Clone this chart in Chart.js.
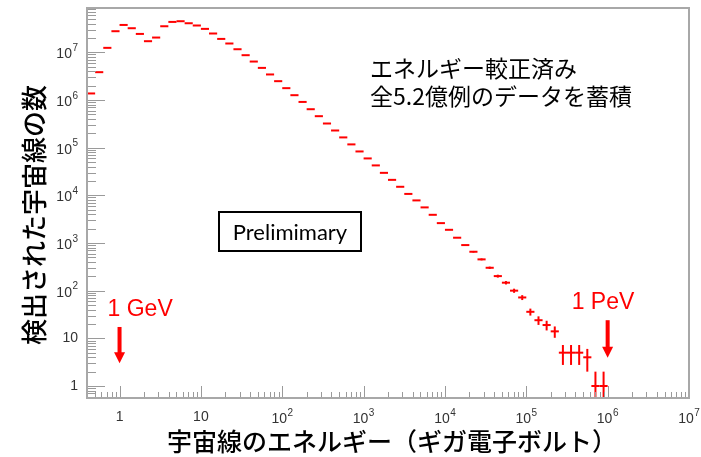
<!DOCTYPE html>
<html>
<head>
<meta charset="utf-8">
<title>宇宙線のエネルギースペクトル</title>
<script src="https://cdn.jsdelivr.net/npm/chart.js@4.4.1/dist/chart.umd.min.js"></script>
<style>
  html, body { margin: 0; padding: 0; background: #fff; }
  #wrap { position: relative; width: 701px; height: 457px; }
</style>
</head>
<body>
<div id="wrap"><canvas id="spectrum"></canvas></div>
<script>
// Energy bins: lower edge in log10(GeV); every bin is 0.1 decade wide
const binLogLow = [
  -0.4, -0.3, -0.2, -0.1, 0.0, 0.1, 0.2, 0.3, 0.4, 0.5,
  0.6, 0.7, 0.8, 0.9, 1.0, 1.1, 1.2, 1.3, 1.4, 1.5,
  1.6, 1.7, 1.8, 1.9, 2.0, 2.1, 2.2, 2.3, 2.4, 2.5,
  2.6, 2.7, 2.8, 2.9, 3.0, 3.1, 3.2, 3.3, 3.4, 3.5,
  3.6, 3.7, 3.8, 3.9, 4.0, 4.1, 4.2, 4.3, 4.4, 4.5,
  4.6, 4.7, 4.8, 4.9, 5.0, 5.1, 5.2, 5.3, 5.4, 5.5,
  5.6, 5.7, 5.8, 5.9
];
const binWidthLog = 0.1;

// Detected cosmic-ray events per bin
const counts = [
  1370000, 3830000, 12400000, 27700000, 37500000, 32000000, 24300000, 17100000, 20400000, 35200000,
  43400000, 44900000, 40700000, 36500000, 31000000, 24800000, 19100000, 15300000, 11600000, 8700000,
  6400000, 4710000, 3430000, 2480000, 1770000, 1260000, 910000, 640000, 457000, 321000,
  229000, 164000, 117000, 83200, 59400, 42400, 29600, 21100, 15100, 10700,
  7820, 5580, 3900, 2610, 1890, 1290, 904, 655, 453, 302,
  202, 147, 100, 72, 36, 24, 19, 14, 5, 5,
  5, 4, 1, 1
];

// Axis tick labels (decades)
const xTickValues = [1, 10, 1e2, 1e3, 1e4, 1e5, 1e6, 1e7];
const xTickLabels = ['1', '10', '10^2', '10^3', '10^4', '10^5', '10^6', '10^7'];
const yTickValues = [1, 10, 1e2, 1e3, 1e4, 1e5, 1e6, 1e7];
const yTickLabels = ['1', '10', '10^2', '10^3', '10^4', '10^5', '10^6', '10^7'];

// Texts
const xTitle = '宇宙線のエネルギー（ギガ電子ボルト）';
const yTitle = '検出された宇宙線の数';
const noteLines = ['エネルギー較正済み', '全5.2億例のデータを蓄積'];
const stampText = 'Prelimimary';

// Energy markers (arrows)
const markerEnergies = [1, 1e6];
const markerLabels = ['1 GeV', '1 PeV'];

// ---------------------------------------------------------------
const RED = 'rgb(255,0,0)';
const AXIS_GRAY = '#a8a8a8';
const TICK_GRAY = '#9a9a9a';
const LABEL_COLOR = '#333';

const points = counts.map((n, i) => ({
  x: Math.pow(10, binLogLow[i] + binWidthLog / 2),
  y: n,
  xLo: Math.pow(10, binLogLow[i]),
  xHi: Math.pow(10, binLogLow[i] + binWidthLog)
}));

// half the bin width in pixels, so the 'line' point spans the bin
function halfBin(c) {
  const xs = c.chart.scales && c.chart.scales.x;
  const d = c.raw;
  if (!xs || !d || !isFinite(xs.getPixelForValue(d.xHi))) return 4;
  return (xs.getPixelForValue(d.xHi) - xs.getPixelForValue(d.xLo)) / 2;
}

// vertical Poisson (sqrt N) uncertainty bars
const errorBars = {
  id: 'errorBars',
  afterDatasetsDraw(chart) {
    const { ctx, chartArea: a } = chart;
    const xs = chart.scales.x, ys = chart.scales.y;
    ctx.save();
    ctx.strokeStyle = RED;
    ctx.lineWidth = 2;
    points.forEach(p => {
      const err = Math.sqrt(p.y);
      const px = xs.getPixelForValue(p.x);
      const top = Math.max(ys.getPixelForValue(p.y + err), a.top);
      const lo = p.y - err;
      const bot = lo > 0 ? Math.min(ys.getPixelForValue(lo), a.bottom) : a.bottom;
      if (bot - top < 1.5) return;
      ctx.beginPath();
      ctx.moveTo(px, top);
      ctx.lineTo(px, bot);
      ctx.stroke();
    });
    ctx.restore();
  }
};

function drawPowLabel(ctx, x, y, label, align) {
  const parts = label.split('^');
  const baseFont = '14px "Liberation Sans", Arial, sans-serif';
  const expFont = '10px "Liberation Sans", Arial, sans-serif';
  ctx.font = baseFont;
  const wb = ctx.measureText(parts[0]).width;
  let we = 0;
  if (parts[1]) { ctx.font = expFont; we = ctx.measureText(parts[1]).width + 0.5; }
  const total = wb + we;
  let sx = align === 'right' ? x - total : x - total / 2;
  const by = parts[1] ? y + 2 : y;
  ctx.textAlign = 'left';
  ctx.textBaseline = 'middle';
  ctx.font = baseFont;
  ctx.fillText(parts[0], sx, by);
  if (parts[1]) {
    ctx.font = expFont;
    ctx.fillText(parts[1], sx + wb + 0.5, by - 6);
  }
}

// frame, inward log ticks and decade labels
const axesFrame = {
  id: 'axesFrame',
  afterDraw(chart) {
    const { ctx, chartArea: a } = chart;
    const xs = chart.scales.x, ys = chart.scales.y;
    ctx.save();
    // minor/major ticks
    ctx.strokeStyle = TICK_GRAY;
    ctx.lineWidth = 1;
    ctx.beginPath();
    for (let n = -1; n <= 7; n++) {
      for (let k = 1; k <= 9; k++) {
        const v = k * Math.pow(10, n);
        if (v >= xs.min * 0.999 && v <= xs.max * 1.001) {
          const px = Math.round(xs.getPixelForValue(v)) + 0.5;
          const len = k === 1 ? 12 : 6;
          ctx.moveTo(px, a.bottom);
          ctx.lineTo(px, a.bottom - len);
        }
      }
    }
    for (let n = -1; n <= 8; n++) {
      for (let k = 1; k <= 9; k++) {
        const v = k * Math.pow(10, n);
        if (v >= ys.min * 0.999 && v <= ys.max * 1.001) {
          const py = Math.round(ys.getPixelForValue(v)) + 0.5;
          const len = k === 1 ? 18 : 9;
          ctx.moveTo(a.left, py);
          ctx.lineTo(a.left + len, py);
        }
      }
    }
    ctx.stroke();
    // frame
    ctx.strokeStyle = AXIS_GRAY;
    ctx.lineWidth = 2;
    ctx.strokeRect(a.left, a.top, a.right - a.left, a.bottom - a.top);

    // tick labels
    ctx.fillStyle = LABEL_COLOR;
    xTickValues.forEach((v, i) => {
      drawPowLabel(ctx, xs.getPixelForValue(v), a.bottom + 19, xTickLabels[i], 'center');
    });
    yTickValues.forEach((v, i) => {
      drawPowLabel(ctx, a.left - 9, ys.getPixelForValue(v), yTickLabels[i], 'right');
    });

    // axis titles
    ctx.fillStyle = '#000';
    ctx.font = '500 25px "Noto Sans CJK JP", sans-serif';
    ctx.textAlign = 'center';
    ctx.textBaseline = 'middle';
    ctx.fillText(xTitle, (a.left + a.right) / 2 + 4, 441);
    ctx.save();
    ctx.translate(34, 215);
    ctx.rotate(-Math.PI / 2);
    ctx.font = '500 26px "Noto Sans CJK JP", sans-serif';
    ctx.fillText(yTitle, 0, 0);
    ctx.restore();
    ctx.restore();
  }
};

// arrows, energy labels, notes and the stamp box
const annotations = {
  id: 'annotations',
  afterDraw(chart) {
    const { ctx } = chart;
    const xs = chart.scales.x, ys = chart.scales.y;
    const arrowSpan = [[17.3, 3.0], [24, 3.9]];   // arrow top / tip in counts
    const labelShift = [-12, -36];
    ctx.save();
    markerEnergies.forEach((e, i) => {
      const x = xs.getPixelForValue(e);
      const top = ys.getPixelForValue(arrowSpan[i][0]);
      const tip = ys.getPixelForValue(arrowSpan[i][1]);
      ctx.fillStyle = RED;
      ctx.fillRect(x - 2, top, 4, tip - top - 10);
      ctx.beginPath();
      ctx.moveTo(x - 5.5, tip - 11);
      ctx.lineTo(x + 5.5, tip - 11);
      ctx.lineTo(x, tip);
      ctx.closePath();
      ctx.fill();
      ctx.font = '23px "Liberation Sans", Arial, sans-serif';
      ctx.textAlign = 'left';
      ctx.textBaseline = 'alphabetic';
      ctx.fillText(markerLabels[i], x + labelShift[i], top - 11);
    });

    ctx.fillStyle = '#000';
    ctx.font = '23px "Noto Sans CJK JP", sans-serif';
    ctx.textAlign = 'left';
    ctx.textBaseline = 'middle';
    ctx.fillText(noteLines[0], 370, 68.5);
    ctx.fillText(noteLines[1], 370, 96);

    ctx.strokeStyle = '#000';
    ctx.lineWidth = 2;
    ctx.strokeRect(219, 212, 142, 39);
    ctx.font = '22px Lato, "Open Sans", sans-serif';
    ctx.textAlign = 'center';
    ctx.textBaseline = 'alphabetic';
    ctx.fillText(stampText, 290, 239.5);
    ctx.restore();
  }
};

new Chart(document.getElementById('spectrum'), {
  type: 'scatter',
  data: {
    datasets: [{
      data: points,
      pointStyle: 'line',
      pointRadius: halfBin,
      pointHoverRadius: halfBin,
      pointBorderWidth: 2,
      pointBorderColor: RED,
      pointBackgroundColor: RED,
      showLine: false
    }]
  },
  options: {
    responsive: true,
    maintainAspectRatio: false,
    animation: false,
    events: [],
    layout: { padding: { left: 87, top: 8, right: 12, bottom: 59 } },
    scales: {
      x: { type: 'logarithmic', min: Math.pow(10, -0.4), max: 1e7, display: false },
      y: { type: 'logarithmic', min: 0.56, max: 8.5e7, display: false }
    },
    plugins: { legend: { display: false }, tooltip: { enabled: false } }
  },
  plugins: [errorBars, axesFrame, annotations]
});
</script>
</body>
</html>
